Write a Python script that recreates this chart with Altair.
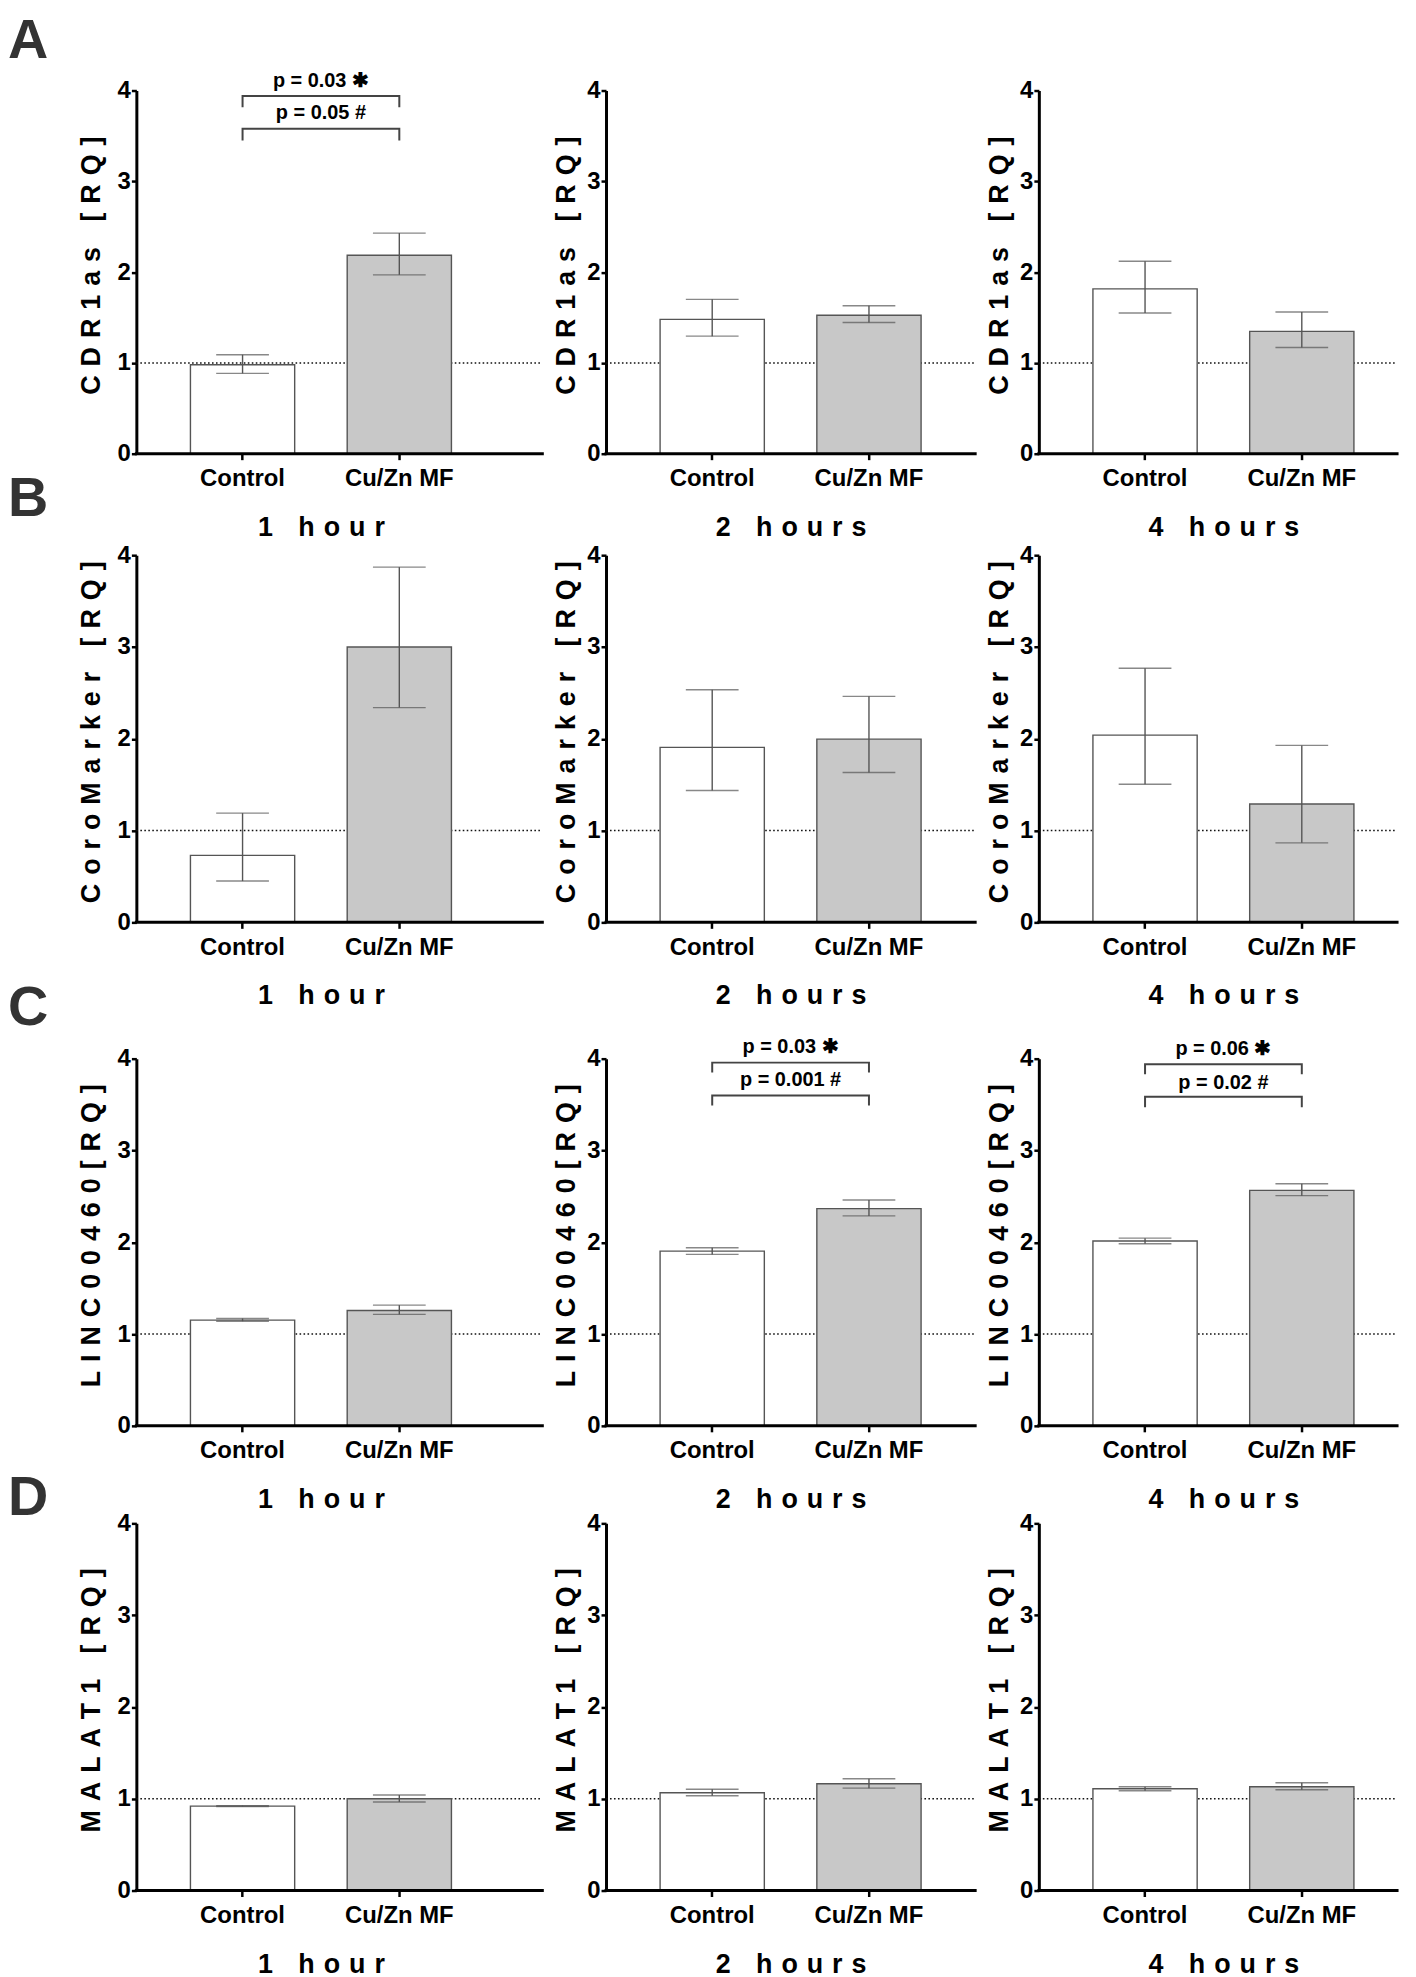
import altair as alt
import pandas as pd

# ---------------- data ----------------
groups = ["Control", "Cu/Zn MF"]
times = ["1 hour", "2 hours", "4 hours"]
gene_titles = ["CDR1as [RQ]", "CoroMarker [RQ]", "LINC00460[RQ]", "MALAT1 [RQ]"]
panel_letters = ["A", "B", "C", "D"]

# mean, lower and upper error-bar end, per time point: [Control, Cu/Zn MF]
cdr1as_mean = [[0.98, 2.185], [1.48, 1.525], [1.815, 1.347]]
cdr1as_low = [[0.885, 1.97], [1.295, 1.445], [1.55, 1.17]]
cdr1as_high = [[1.09, 2.43], [1.70, 1.63], [2.12, 1.56]]

coro_mean = [[0.73, 3.0], [1.906, 1.996], [2.04, 1.289]]
coro_low = [[0.45, 2.34], [1.437, 1.632], [1.505, 0.866]]
coro_high = [[1.19, 3.87], [2.534, 2.462], [2.769, 1.928]]

linc_mean = [[1.152, 1.257], [1.904, 2.367], [2.013, 2.565]]
linc_low = [[1.14, 1.214], [1.868, 2.287], [1.984, 2.508]]
linc_high = [[1.17, 1.315], [1.94, 2.46], [2.045, 2.638]]

malat_mean = [[0.92, 1.0], [1.065, 1.163], [1.108, 1.13]]
malat_low = [[0.915, 0.965], [1.032, 1.115], [1.087, 1.098]]
malat_high = [[0.925, 1.04], [1.104, 1.217], [1.13, 1.174]]

MEANS = [cdr1as_mean, coro_mean, linc_mean, malat_mean]
LOWS = [cdr1as_low, coro_low, linc_low, malat_low]
HIGHS = [cdr1as_high, coro_high, linc_high, malat_high]

# significance annotations keyed by (gene index, time index)
bracket_labels = {
    (0, 0): ["p = 0.03 \u2731", "p = 0.05 #"],
    (2, 1): ["p = 0.03 \u2731", "p = 0.001 #"],
    (2, 2): ["p = 0.06 \u2731", "p = 0.02 #"],
}
bracket_tops = {(0, 0): [3.94, 3.58], (2, 1): [3.957, 3.60], (2, 2): [3.94, 3.585]}
bracket_legs = {(0, 0): [3.815, 3.45], (2, 1): [3.85, 3.49], (2, 2): [3.83, 3.47]}
bracket_text_y = {(0, 0): [4.10, 3.75], (2, 1): [4.126, 3.77], (2, 2): [4.10, 3.73]}

# ---------------- layout ----------------
FONT = "Liberation Sans"
W = 371                      # x-range of every panel
COLW = [408, 371, 360]       # group widths (extra room right of column 1)
ROW_H = [365, 373, 408, 369] # group heights
ROW_TOP = [0, 4, 39, 0]      # where y=4 sits inside the group
LETTER_Y = [-76.5, -79, -39, -52]
TITLE_X = [-37, -32, -32]
GREY = "#555555"
PATTERN = "#c8c8c8"


def spaced(s):
    return "\u2004".join(s)


def panel(g, t):
    H = ROW_H[g]
    top = ROW_TOP[g]
    cw = COLW[t]
    mid = (H + top) / 2
    df = pd.DataFrame({
        "group": groups,
        "mean": MEANS[g][t],
        "low": LOWS[g][t],
        "high": HIGHS[g][t],
    })
    xs = alt.Scale(domain=groups, range=[0, W], paddingInner=0.335, paddingOuter=0.345)
    ys = alt.Scale(domain=[0, 4], range=[H, top], nice=False, zero=True)

    xaxis = alt.Axis(
        title=spaced(times[t]), titleX=W / 2, titleY=82,
    )
    yaxis = alt.Axis(
        values=[0, 1, 2, 3, 4], format="d",
        labelFontSize=24, labelFontWeight="bold", labelFont=FONT,
        title=spaced(gene_titles[g]), titleX=TITLE_X[t], titleY=mid - 7,
    )

    def X():
        return alt.X("group:N", scale=xs, sort=groups, axis=xaxis)

    def Y(field):
        return alt.Y(field, scale=ys, axis=yaxis)

    base = alt.Chart(df)

    dotted = alt.Chart(pd.DataFrame({"ref": [1.0]})).mark_rule(
        color="#111111", strokeWidth=1.5, strokeDash=[1.6, 2.4]
    ).encode(y=Y("ref:Q"), x=alt.value(0), x2=alt.value(cw))

    bars = base.mark_bar(stroke=GREY, strokeWidth=1.4).encode(
        x=X(),
        y=Y("mean:Q"),
        fill=alt.Fill("group:N", scale=alt.Scale(domain=groups, range=["#ffffff", PATTERN]), legend=None),
    )
    err = base.mark_rule(color=GREY, strokeWidth=1.4).encode(x=X(), y=Y("low:Q"), y2="high:Q")
    cap_hi = base.mark_tick(color=GREY, size=53, thickness=1.4).encode(x=X(), y=Y("high:Q"))
    cap_lo = base.mark_tick(color=GREY, size=53, thickness=1.4).encode(x=X(), y=Y("low:Q"))
    xline = alt.Chart(pd.DataFrame({"zero": [0.0]})).mark_rule(
        color="black", strokeWidth=3, strokeCap="square"
    ).encode(y=Y("zero:Q"), x=alt.value(0), x2=alt.value(cw))

    layers = [dotted, bars, err, cap_hi, cap_lo, xline]

    key = (g, t)
    if key in bracket_labels:
        rows = []
        for i, (tp, lg) in enumerate(zip(bracket_tops[key], bracket_legs[key])):
            rows += [
                {"bid": i, "group": groups[0], "yv": lg, "ord": 0},
                {"bid": i, "group": groups[0], "yv": tp, "ord": 1},
                {"bid": i, "group": groups[1], "yv": tp, "ord": 2},
                {"bid": i, "group": groups[1], "yv": lg, "ord": 3},
            ]
        br = alt.Chart(pd.DataFrame(rows)).mark_line(color="#444444", strokeWidth=2).encode(
            x=X(), y=Y("yv:Q"), detail="bid:N", order="ord:Q"
        )
        tdf = pd.DataFrame({"label": bracket_labels[key], "ty": bracket_text_y[key]})
        txt = alt.Chart(tdf).mark_text(
            fontSize=20, fontWeight="bold", baseline="middle", align="center", color="black"
        ).encode(x=alt.value(W / 2), y=Y("ty:Q"), text="label:N")
        layers += [br, txt]

    if t == 0:
        letter = alt.Chart(pd.DataFrame({"letter": [panel_letters[g]]})).mark_text(
            fontSize=56, fontWeight="bold", align="left", baseline="top", color="#333333"
        ).encode(text="letter:N", x=alt.value(-129), y=alt.value(LETTER_Y[g]))
        layers.append(letter)

    return alt.layer(*layers).properties(width=cw, height=H)


panels = [panel(g, t) for g in range(4) for t in range(3)]

chart = alt.concat(
    *panels, columns=3, spacing={"row": 98, "column": 64}, bounds="flush", align="each"
).properties(
    padding={"top": 0, "left": 0, "right": 0, "bottom": 0}
).configure(
    font=FONT, view=alt.ViewConfig(strokeWidth=0)
).configure_axis(
    grid=False, labelColor="black", titleColor="black",
    labelFont=FONT, titleFont=FONT, labelFontWeight="bold", titleFontWeight="bold",
    titleFontSize=27, titleBaseline="alphabetic",
).configure_axisX(
    domain=False, ticks=True, tickSize=6, tickWidth=2.5, tickColor="black",
    labelFontSize=24, labelPadding=7, labelAngle=0,
).configure_axisY(
    domain=True, domainWidth=3, domainColor="black",
    tickSize=5, tickWidth=2.5, tickColor="black",
    labelFontSize=24, labelPadding=1, titleAlign="center",
)

chart.save("out.html", embed_options={"renderer": "svg", "actions": False})
